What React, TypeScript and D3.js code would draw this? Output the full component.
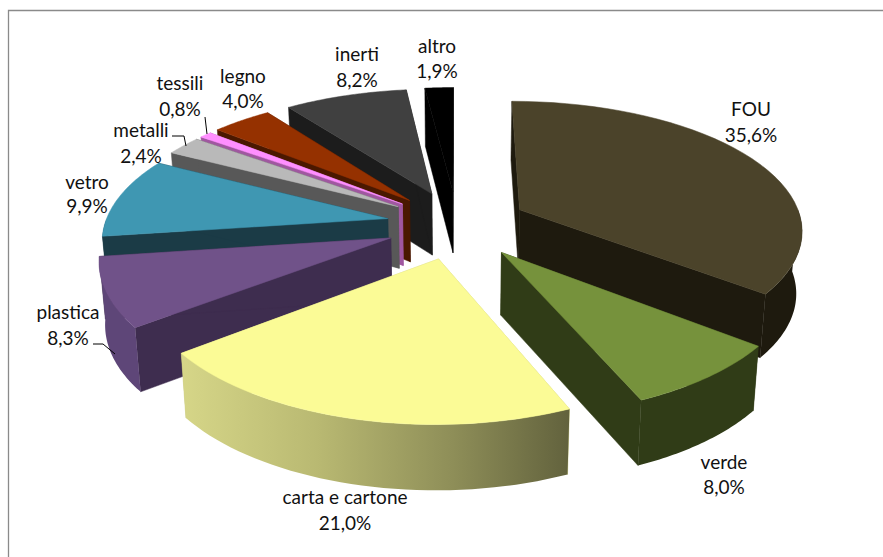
import React from "react";
import * as d3 from "d3";

// Composition of collected waste, percentage shares
const categories = ["FOU", "verde", "carta e cartone", "plastica", "vetro", "metalli", "tessili", "legno", "inerti", "altro"];
const shares = [35.6, 8.0, 21.0, 8.3, 9.9, 2.4, 0.8, 4.0, 8.2, 1.9];
const shareLabels = ["35,6%", "8,0%", "21,0%", "8,3%", "9,9%", "2,4%", "0,8%", "4,0%", "8,2%", "1,9%"];

// Face colours per slice
const topColors = ["#4b432a", "#76923c", "#fbfb96", "#705289", "#3f97b2", "#b9b9b9", "#ff8fff", "#953100", "#404040", "#000000"];
const cutColors = ["#1e1a0e", "#303c17", "#c9c97c", "#3e2d4f", "#1b3b46", "#585858", "#a057a0", "#4a1800", "#1c1c1c", "#000000"];
const rimColors = ["#1e1a0e", "#303c17", "url(#cartaRim)", "#5e4678", "#1b3b46", "#585858", "#a057a0", "#4a1800", "#1c1c1c", "#000000"];

// Back slices are painted first so the nearer ones overlap them
const paintOrder = [9, 8, 7, 6, 5, 4, 3, 0, 1, 2];

// Label anchors: centre x and the baselines of the two lines
const labelX = [751, 724, 345, 68, 87, 141, 180, 243, 357, 437];
const labelY1 = [116, 469, 504, 319, 189, 137, 90, 83, 61, 53];
const labelY2 = [142, 494, 530, 345, 213, 163, 116, 108, 87, 78];

// Leader lines for the small slices
const leaders: [number, number][][] = [
  [[205, 117], [207, 134]],
  [[172, 136], [184, 136], [186, 146]],
  [[93, 344], [103, 344], [115, 354]],
];

// Perspective view of the pie plane
const cx = 457, cy = 224.5, scaleU = 283, scaleV = 129, perspU = 0.142, perspV = 0.151;
const explodeU = 0.25, explodeV = 0.265;
const verticalShrink = 0.983;

type Pt = [number, number];

function project(u: number, v: number, lower: boolean): Pt {
  const w = 1 + perspV * v;
  const x = cx + (scaleU * u) / (1 + perspU * v);
  const y = cy - (scaleV * v) / w;
  if (!lower) return [x, y];
  return [cx + (x - cx) * verticalShrink, y + 62 + 20 * (1 - w)];
}

const line = d3.line<Pt>().curve(d3.curveLinear);
const closed = (pts: Pt[]) => (line(pts) ?? "") + "Z";

const arcs = d3.pie<number>().sort(null)(shares);

const slices = arcs.map((a, i) => {
  const mid = (a.startAngle + a.endAngle) / 2;
  const ax = explodeU * Math.sin(mid);
  const ay = explodeV * Math.cos(mid);
  const rim = (t: number, lower: boolean) => project(ax + Math.sin(t), ay + Math.cos(t), lower);
  const apexTop = project(ax, ay, false);
  const apexLow = project(ax, ay, true);
  const sweep = (from: number, to: number, lower: boolean) =>
    d3.range(0, 41).map((k) => rim(from + ((to - from) * k) / 40, lower));

  const top = closed([apexTop, ...sweep(a.startAngle, a.endAngle, false)]);
  const startWall = closed([apexTop, rim(a.startAngle, false), rim(a.startAngle, true), apexLow]);
  const endWall = closed([apexTop, rim(a.endAngle, false), rim(a.endAngle, true), apexLow]);

  // Only the part of the outer rim that faces the viewer is drawn
  const from = Math.max(a.startAngle, Math.PI / 2);
  const to = Math.min(a.endAngle, (3 * Math.PI) / 2);
  const rimWall =
    to > from ? closed([...sweep(from, to, false), ...sweep(from, to, true).reverse()]) : null;

  return { i, top, startWall, endWall, rimWall, rimStart: rim(a.startAngle, false), rimEnd: rim(a.endAngle, false) };
});

const carta = slices[2];

export default function App() {
  return (
    <svg
      width={883}
      height={557}
      viewBox="0 0 883 557"
      style={{ position: "absolute", left: 0, top: 0, background: "#fff" }}
    >
      <defs>
        <linearGradient
          id="cartaRim"
          gradientUnits="userSpaceOnUse"
          x1={carta.rimEnd[0]}
          y1={0}
          x2={carta.rimStart[0]}
          y2={0}
        >
          <stop offset="0" stopColor="#d6d688" />
          <stop offset="0.35" stopColor="#b9b972" />
          <stop offset="0.7" stopColor="#8e8e58" />
          <stop offset="1" stopColor="#62623d" />
        </linearGradient>
      </defs>

      <path d="M8.5 557V10.5H883" fill="none" stroke="#8a8a8a" strokeWidth={1.3} />

      {paintOrder.map((i) => {
        const s = slices[i];
        return (
          <g key={categories[i]}>
            <path d={s.startWall} fill={cutColors[i]} stroke={cutColors[i]} strokeWidth={0.5} />
            <path d={s.endWall} fill={cutColors[i]} stroke={cutColors[i]} strokeWidth={0.5} />
            {s.rimWall && <path d={s.rimWall} fill={rimColors[i]} />}
            <path d={s.top} fill={topColors[i]} stroke={topColors[i]} strokeWidth={0.5} />
          </g>
        );
      })}

      {leaders.map((pts, k) => (
        <path key={k} d={line(pts) ?? ""} fill="none" stroke="#000" strokeWidth={1} />
      ))}

      <g fontFamily="Lato, 'Open Sans', sans-serif" fontSize={19} fill="#111" textAnchor="middle">
        {categories.map((c, i) => (
          <g key={c}>
            <text x={labelX[i]} y={labelY1[i]}>{c}</text>
            <text x={labelX[i]} y={labelY2[i]}>{shareLabels[i]}</text>
          </g>
        ))}
      </g>
    </svg>
  );
}
